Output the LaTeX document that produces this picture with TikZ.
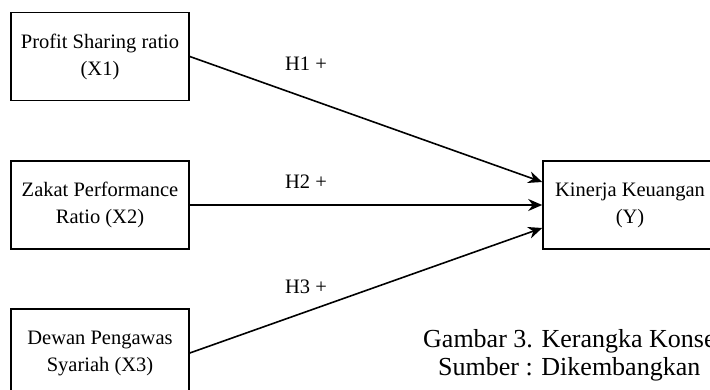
\documentclass[tikz,border=0pt]{standalone}
\usepackage{fontspec}
\setmainfont{Liberation Serif}
\usetikzlibrary{arrows.meta}
\tikzset{
    varbox/.style={draw, line width=1.6pt, minimum width=178pt, minimum height=88pt,
        inner sep=0pt, align=center, font=\fontsize{20.5}{27}\selectfont},
    hyparrow/.style={line width=1.6pt, -{Stealth[length=14pt,width=12pt]}},
    hyplabel/.style={font=\fontsize{20.5}{24}\selectfont},
    captext/.style={anchor=base west, inner sep=0pt, font=\fontsize{26}{28}\selectfont}
}
\begin{document}
\begin{tikzpicture}[x=1pt,y=1pt]
    \useasboundingbox (0,0) rectangle (710,389);
    \clip (0,0) rectangle (710,389);
    \node[varbox] (x1) at (100,332.5) {Profit Sharing ratio\\(X1)};
    \node[varbox] (x2) at (100,184) {Zakat Performance\\Ratio (X2)};
    \node[varbox] (x3) at (100,36) {Dewan Pengawas\\Syariah (X3)};
    \node[varbox, minimum width=184pt] (y) at (635,184) {\hspace*{-10pt}Kinerja Keuangan\\\hspace*{-10pt}(Y)};
    \draw[hyparrow] (x1.east) -- ([yshift=23pt]y.west);
    \draw[hyparrow] (x2.east) -- (y.west);
    \draw[hyparrow] (x3.east) -- ([yshift=-23pt]y.west);
    \node[hyplabel] (h1) at (306,325) {H1 +};
    \node[hyplabel] (h2) at (306,207) {H2 +};
    \node[hyplabel] (h3) at (306,102) {H3 +};
    \node[captext] (cap1) at (423,42) {Gambar 3. Kerangka Konse};
    \node[captext] (cap2) at (438,14) {Sumber : Dikembangkan};
\end{tikzpicture}
\end{document}
